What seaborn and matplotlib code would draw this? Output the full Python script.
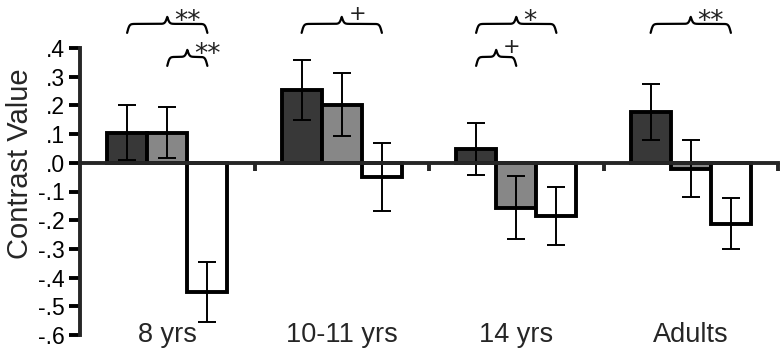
import numpy as np
import pandas as pd
import matplotlib
matplotlib.use("Agg")
import matplotlib.pyplot as plt
import seaborn as sns

# ==========================================
# DATA
# ==========================================
groups = ["8 yrs", "10-11 yrs", "14 yrs", "Adults"]
conditions = ["A", "B", "C"]

vals_a = [0.105, 0.254, 0.049, 0.178]
vals_b = [0.105, 0.202, -0.157, -0.020]
vals_c = [-0.450, -0.049, -0.185, -0.212]

err_a = [0.095, 0.105, 0.090, 0.098]
err_b = [0.090, 0.110, 0.110, 0.098]
err_c = [0.105, 0.118, 0.100, 0.088]

# significance braces: (group index, from condition, to condition, label, level)
comp_group = [0, 0, 1, 2, 2, 3]
comp_from = [0, 1, 0, 0, 0, 0]
comp_to = [2, 2, 2, 2, 1, 2]
comp_label = ["**", "**", "+", "*", "+", "**"]
comp_level = [0, 1, 0, 0, 1, 0]

yticks = [0.4, 0.3, 0.2, 0.1, 0.0, -0.1, -0.2, -0.3, -0.4, -0.5, -0.6]
ytick_labels = [".4", ".3", ".2", ".1", ".0", "-.1", "-.2", "-.3", "-.4", "-.5", "-.6"]

# ==========================================
# STYLE
# ==========================================
sns.set_theme(style="white")
plt.rcParams["font.family"] = ["Liberation Sans", "DejaVu Sans"]

BAR_COLORS = ["#383838", "#878787", "#ffffff"]
EDGE_W = 2.8
LEVEL_Y = [0.484, 0.369]  # flat part of braces, data units
# per-symbol text style: (fontsize, vertical offset in points from brace line)
SYMBOL_STYLE = {"*": (19, -3.5), "**": (19, -3.5), "+": (15, 3.0)}

df = pd.DataFrame({
    "group": np.repeat(groups, 3),
    "cond": conditions * len(groups),
    "value": np.ravel(np.column_stack([vals_a, vals_b, vals_c])),
})
errs = [err_a, err_b, err_c]
vals_all = [vals_a, vals_b, vals_c]

fig = plt.figure(figsize=(7.83, 3.60), dpi=100)
ax = fig.add_axes([80 / 783, 25 / 360, 698 / 783, 287 / 360])

sns.barplot(data=df, x="group", y="value", hue="cond", order=groups,
            hue_order=conditions, palette=BAR_COLORS, saturation=1,
            edgecolor="black", linewidth=EDGE_W, width=0.69, gap=0,
            errorbar=None, legend=False, ax=ax)

ax.set_xlim(-0.5, 3.5)
ax.set_ylim(-0.6, 0.4)

# bar centres from the seaborn containers
bar_containers = list(ax.containers)
centres = []
for i, cont in enumerate(bar_containers):
    xs = [p.get_x() + p.get_width() / 2 for p in cont.patches]
    centres.append(xs)
    ax.errorbar(xs, vals_all[i], yerr=errs[i], fmt="none", ecolor="black",
                elinewidth=1.4, capsize=6.5, capthick=1.4, zorder=5)

# axes: zero line as x axis, left spine with outward ticks
for s in ["top", "right"]:
    ax.spines[s].set_visible(False)
ax.spines["bottom"].set_position(("data", 0))
ax.spines["bottom"].set_linewidth(EDGE_W)
ax.spines["bottom"].set_zorder(6)
ax.spines["left"].set_linewidth(EDGE_W)
ax.spines["left"].set_bounds(-0.6, 0.4)

ax.set_yticks(yticks)
ax.set_yticklabels(ytick_labels, fontsize=16.5)
ax.tick_params(axis="y", direction="out", length=8, width=EDGE_W, pad=3,
               left=True, colors="black")
ax.set_xticks([0.5, 1.5, 2.5, 3.5])
ax.set_xticklabels([])
ax.tick_params(axis="x", direction="out", length=6, width=EDGE_W, bottom=True)
ax.set_xlabel("")
ax.set_ylabel("")

for gi, g in enumerate(groups):
    ax.text(gi, 0.0, g, transform=ax.get_xaxis_transform(), ha="center",
            va="center", fontsize=19.5)

fig.text(20 / 783, 196 / 360, "Contrast Value", rotation=90, ha="center",
         va="center", fontsize=21)


def draw_brace(ax, xa, xb, y_flat, label, hook=9.0, peak=7.0, beta=0.9):
    trans = ax.transData
    pa, py = trans.transform((xa, y_flat))
    pb, _ = trans.transform((xb, y_flat))
    n = 200
    half = np.linspace(0, (pb - pa) / 2, n)
    v = 1 / (1 + np.exp(-beta * (half - half[0]))) + \
        1 / (1 + np.exp(-beta * (half - half[-1])))
    full = np.concatenate([v, v[-2::-1]])
    xs = np.linspace(pa, pb, 2 * n - 1)
    dy = np.where(full < 1, (full - 1) * 2 * hook, (full - 1) * 2 * peak)
    pts = trans.inverted().transform(np.column_stack([xs, py + dy]))
    ax.plot(pts[:, 0], pts[:, 1], color="black", lw=1.6, clip_on=False,
            solid_capstyle="round")
    mid = trans.inverted().transform(((pa + pb) / 2, py))
    size, dy_pt = SYMBOL_STYLE[label]
    ax.annotate(label, xy=(mid[0], mid[1]), xytext=(5, dy_pt),
                textcoords="offset points", ha="left", va="baseline",
                fontsize=size, family=["DejaVu Sans"], color="#222222",
                annotation_clip=False)


for g, a, b, lab, lev in zip(comp_group, comp_from, comp_to, comp_label, comp_level):
    draw_brace(ax, centres[a][g], centres[b][g], LEVEL_Y[lev], lab)

fig.savefig("out.png", dpi=100)
